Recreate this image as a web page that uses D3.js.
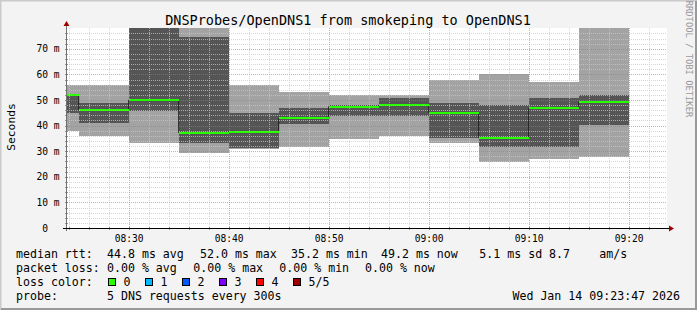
<!DOCTYPE html>
<html>
<head>
<meta charset="utf-8">
<script src="https://cdn.jsdelivr.net/npm/d3@7"></script>
<style>
  body { margin: 0; background: #f3f3f3; }
  svg text { font-family: 'DejaVu Sans Mono', monospace; white-space: pre; }
</style>
</head>
<body>
<div id="viz"></div>
<script>
// step end times (5 min steps), sorted pings per step
var stepEnds = ['08:25', '08:30', '08:35', '08:40', '08:45', '08:50', '08:55', '09:00', '09:05', '09:10', '09:15', '09:20'];
var ping1  = [37.9, 35.9, 33.1, 29.2, 31.0, 31.8, 34.8, 35.9, 33.1, 25.9, 26.8, 27.9];
var ping2  = [45.0, 41.1, 45.7, 33.3, 31.1, 40.6, 43.9, 43.9, 35.0, 31.8, 31.8, 40.2];
var median = [52.0, 46.1, 50.0, 37.2, 37.6, 42.8, 47.4, 48.0, 45.0, 35.2, 46.8, 49.2];
var ping4  = [52.4, 48.7, 85.0, 74.5, 44.8, 47.0, 48.0, 50.9, 48.7, 48.0, 50.9, 52.0];
var ping5  = [55.9, 55.9, 95.0, 90.0, 55.9, 53.2, 52.0, 52.0, 57.8, 60.0, 56.9, 82.0];
var yTicks = [0, 10, 20, 30, 40, 50, 60, 70];
var xTicks = ['08:30', '08:40', '08:50', '09:00', '09:10', '09:20'];
var lossLabels = ['0', '1', '2', '3', '4', '5/5'];
var lossColors = ['#26ff00', '#00b8ff', '#0059ff', '#7e00ff', '#ff0000', '#a00000'];

var width = 697, height = 310;
var plot = { left: 67, right: 667, top: 28, bottom: 228 };
var parse = function(s) { return new Date('2026-01-14T' + s + ':00'); };
var start = new Date('2026-01-14T08:23:50'), end = new Date('2026-01-14T09:23:50');

var x = d3.scaleTime().domain([start, end]).range([plot.left, plot.right]);
var y = d3.scaleLinear().domain([0, 78.125]).range([plot.bottom, plot.top]);

var steps = stepEnds.map(function(t, i) {
  var e = parse(t);
  var s = new Date(e.getTime() - 5 * 60000);
  if (s < start) s = start;
  return { s: s, e: e, p1: ping1[i], p2: ping2[i], med: median[i], p4: ping4[i], p5: ping5[i] };
});

var svg = d3.select('#viz').append('svg')
  .attr('width', width)
  .attr('height', height);

// frame
svg.append('rect').attr('width', width).attr('height', height).attr('fill', '#f3f3f3');
svg.append('path').attr('d', 'M0.5,310V0.5H697').attr('fill', 'none').attr('stroke', '#cbcbcb').attr('stroke-width', 2);
svg.append('path').attr('d', 'M1,309H696V1').attr('fill', 'none').attr('stroke', '#999999').attr('stroke-width', 2);

svg.append('defs').append('clipPath').attr('id', 'clip')
  .append('rect')
  .attr('x', plot.left).attr('y', plot.top)
  .attr('width', plot.right - plot.left).attr('height', plot.bottom - plot.top);

svg.append('rect')
  .attr('x', plot.left).attr('y', plot.top)
  .attr('width', plot.right - plot.left).attr('height', plot.bottom - plot.top)
  .attr('fill', '#ffffff');

var g = svg.append('g').attr('clip-path', 'url(#clip)');

// smoke
g.selectAll('rect.outer').data(steps).enter().append('rect')
  .attr('class', 'outer')
  .attr('x', function(d) { return x(d.s); })
  .attr('width', function(d) { return x(d.e) - x(d.s); })
  .attr('y', function(d) { return y(d.p5); })
  .attr('height', function(d) { return y(d.p1) - y(d.p5); })
  .attr('fill', '#a3a3a3')
  .attr('shape-rendering', 'crispEdges');

g.selectAll('rect.inner').data(steps).enter().append('rect')
  .attr('class', 'inner')
  .attr('x', function(d) { return x(d.s); })
  .attr('width', function(d) { return x(d.e) - x(d.s); })
  .attr('y', function(d) { return y(d.p4); })
  .attr('height', function(d) { return y(d.p2) - y(d.p4); })
  .attr('fill', '#555555')
  .attr('shape-rendering', 'crispEdges');

// grid over the smoke
var grid = svg.append('g').attr('shape-rendering', 'crispEdges');
var minorY = d3.range(2, 78, 2).filter(function(v) { return v % 10 !== 0; });
grid.selectAll('line.hmin').data(minorY).enter().append('line')
  .attr('x1', plot.left).attr('x2', plot.right)
  .attr('y1', function(d) { return Math.round(y(d)) + 0.5; })
  .attr('y2', function(d) { return Math.round(y(d)) + 0.5; })
  .attr('stroke', '#c8c8c8').attr('stroke-opacity', 0.75).attr('stroke-dasharray', '1,1');

var minorX = d3.timeMinute.every(2).range(start, end).filter(function(t) { return t.getMinutes() % 10 !== 0; });
grid.selectAll('line.vmin').data(minorX).enter().append('line')
  .attr('y1', plot.top).attr('y2', plot.bottom)
  .attr('x1', function(d) { return Math.round(x(d)) + 0.5; })
  .attr('x2', function(d) { return Math.round(x(d)) + 0.5; })
  .attr('stroke', '#c8c8c8').attr('stroke-opacity', 0.75).attr('stroke-dasharray', '1,1');

grid.selectAll('line.hmaj').data(yTicks.slice(1)).enter().append('line')
  .attr('x1', plot.left).attr('x2', plot.right)
  .attr('y1', function(d) { return Math.round(y(d)) + 0.5; })
  .attr('y2', function(d) { return Math.round(y(d)) + 0.5; })
  .attr('stroke', '#e06060').attr('stroke-opacity', 0.6).attr('stroke-dasharray', '1,1');

grid.selectAll('line.vmaj').data(xTicks.map(parse)).enter().append('line')
  .attr('y1', plot.top).attr('y2', plot.bottom)
  .attr('x1', function(d) { return Math.round(x(d)) + 0.5; })
  .attr('x2', function(d) { return Math.round(x(d)) + 0.5; })
  .attr('stroke', '#e06060').attr('stroke-opacity', 0.6).attr('stroke-dasharray', '1,1');

// median line: dark steps, green where loss = 0
var stepPts = [];
steps.forEach(function(d) { stepPts.push([x(d.s), y(d.med)]); stepPts.push([x(d.e), y(d.med)]); });
g.append('path')
  .attr('d', d3.line()(stepPts))
  .attr('fill', 'none')
  .attr('stroke', '#202020')
  .attr('stroke-width', 1);

g.selectAll('line.med').data(steps).enter().append('line')
  .attr('x1', function(d) { return x(d.s); })
  .attr('x2', function(d) { return x(d.e); })
  .attr('y1', function(d) { return Math.round(y(d.med)); })
  .attr('y2', function(d) { return Math.round(y(d.med)); })
  .attr('stroke', lossColors[0])
  .attr('stroke-width', 2)
  .attr('shape-rendering', 'crispEdges');

// axes
var axes = svg.append('g').attr('shape-rendering', 'crispEdges');
axes.selectAll('line.yt').data(d3.range(0, 78, 2)).enter().append('line')
  .attr('x1', plot.left - 2).attr('x2', plot.left + 1)
  .attr('y1', function(d) { return Math.round(y(d)) + 0.5; })
  .attr('y2', function(d) { return Math.round(y(d)) + 0.5; })
  .attr('stroke', function(d) { return d % 10 === 0 ? '#e06060' : '#999'; });
axes.selectAll('line.xt').data(d3.timeMinute.every(2).range(start, end)).enter().append('line')
  .attr('y1', plot.bottom - 1).attr('y2', plot.bottom + 2)
  .attr('x1', function(d) { return Math.round(x(d)) + 0.5; })
  .attr('x2', function(d) { return Math.round(x(d)) + 0.5; })
  .attr('stroke', function(d) { return d.getMinutes() % 10 === 0 ? '#e06060' : '#999'; });

axes.append('line')
  .attr('x1', plot.left - 0.5).attr('x2', plot.left - 0.5)
  .attr('y1', plot.bottom + 3).attr('y2', plot.top - 4)
  .attr('stroke', '#707070');
axes.append('line')
  .attr('x1', plot.left - 4).attr('x2', plot.right + 3)
  .attr('y1', plot.bottom + 0.5).attr('y2', plot.bottom + 0.5)
  .attr('stroke', '#000');

svg.append('path')
  .attr('d', 'M' + (plot.left - 3.5) + ',' + (plot.top - 2) + 'L' + (plot.left - 0.5) + ',' + (plot.top - 7) + 'L' + (plot.left + 2.5) + ',' + (plot.top - 2) + 'Z')
  .attr('fill', '#a00000');
svg.append('path')
  .attr('d', 'M' + (plot.right + 2) + ',' + (plot.bottom - 2.5) + 'L' + (plot.right + 7) + ',' + (plot.bottom + 0.5) + 'L' + (plot.right + 2) + ',' + (plot.bottom + 3.5) + 'Z')
  .attr('fill', '#a00000');

// tick labels
svg.selectAll('text.yl').data(yTicks).enter().append('text')
  .attr('x', 59.5)
  .attr('y', function(d) { return y(d) + 3.5; })
  .attr('text-anchor', 'end')
  .style('font-size', '9.6px')
  .text(function(d) { return d === 0 ? '0  ' : d + ' m'; });

svg.selectAll('text.xl').data(xTicks).enter().append('text')
  .attr('x', function(d) { return x(parse(d)) + 0.5; })
  .attr('y', 241.5)
  .attr('text-anchor', 'middle')
  .style('font-size', '9.6px')
  .text(function(d) { return d; });

svg.append('text')
  .attr('x', 348).attr('y', 24.5)
  .attr('text-anchor', 'middle')
  .style('font-size', '13.5px')
  .text('DNSProbes/OpenDNS1 from smokeping to OpenDNS1');

svg.append('text')
  .attr('transform', 'translate(14.5,127) rotate(-90)')
  .attr('text-anchor', 'middle')
  .style('font-size', '11.3px')
  .text('Seconds');

svg.append('text')
  .attr('transform', 'translate(685.5,59) rotate(90)')
  .attr('text-anchor', 'middle')
  .style('font-size', '8.8px')
  .attr('fill', '#999999')
  .text('RRDTOOL / TOBI OETIKER');

// legend (items placed one after another with a two-space gap)
var fmt = function(v) { return v.toFixed(1); };
var medAvg = d3.mean(median), medMax = d3.max(median), medMin = d3.min(median), medNow = median[median.length - 1];
var legend = [
  [16, 257.5, 'median rtt:'], [107, 257.5, fmt(medAvg) + ' ms avg'], [200, 257.5, fmt(medMax) + ' ms max'],
  [291, 257.5, fmt(medMin) + ' ms min'], [381, 257.5, fmt(medNow) + ' ms now'], [479.3, 257.5, '5.1 ms sd'],
  [549, 257.5, '8.7'], [599.3, 257.5, 'am/s'],
  [16, 271.5, 'packet loss:'], [107, 271.5, '0.00 % avg'], [193.3, 271.5, '0.00 % max'],
  [279.3, 271.5, '0.00 % min'], [365, 271.5, '0.00 % now'],
  [16, 285.5, 'loss color:'],
  [16, 299.5, 'probe:'], [107, 299.5, '5 DNS requests every 300s']
];
svg.selectAll('text.lg').data(legend).enter().append('text')
  .attr('x', function(d) { return d[0]; })
  .attr('y', function(d) { return d[1]; })
  .style('font-size', '11.6px')
  .text(function(d) { return d[2]; });

svg.append('text')
  .attr('x', 680).attr('y', 299.5)
  .attr('text-anchor', 'end')
  .style('font-size', '11.6px')
  .text('Wed Jan 14 09:23:47 2026');

var lossX = d3.scalePoint().domain(lossLabels).range([108.5, 293.5]);
svg.selectAll('rect.lc').data(lossLabels).enter().append('rect')
  .attr('x', function(d) { return lossX(d); })
  .attr('y', 278.5)
  .attr('width', 7).attr('height', 7)
  .attr('fill', function(d, i) { return lossColors[i]; })
  .attr('stroke', '#000')
  .attr('shape-rendering', 'crispEdges');
svg.selectAll('text.lc').data(lossLabels).enter().append('text')
  .attr('x', function(d) { return lossX(d) + 15; })
  .attr('y', 285.5)
  .style('font-size', '11.6px')
  .text(function(d) { return d; });
</script>
</body>
</html>
